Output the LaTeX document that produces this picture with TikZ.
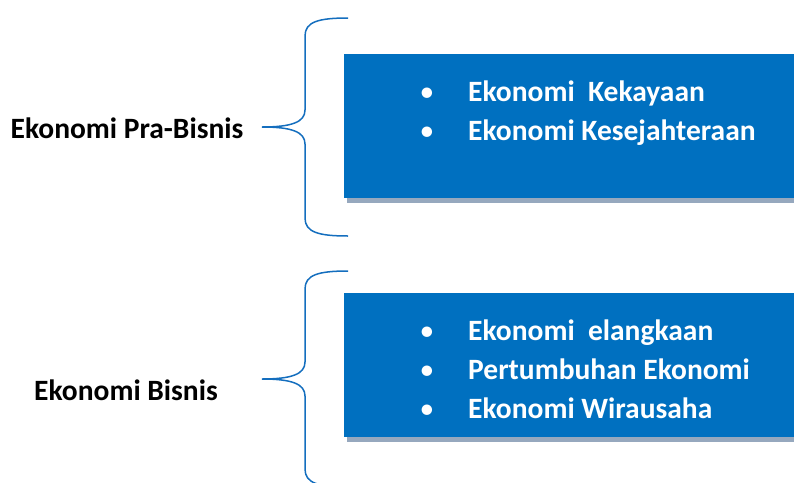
\documentclass[tikz,border=0pt]{standalone}
\usepackage{fontspec}
\setmainfont{Carlito}
\usepackage{tikz}
\usetikzlibrary{shadows}

\definecolor{boxblue}{RGB}{0,112,192}
\definecolor{bracecolor}{RGB}{20,110,190}
\definecolor{shadowgray}{RGB}{150,168,190}

\tikzset{
  bluebox/.style={draw=none, fill=boxblue, anchor=north west, inner sep=0pt,
    minimum width=450pt, minimum height=144pt,
    drop shadow={shadow xshift=3pt, shadow yshift=-5pt, fill=shadowgray, opacity=1}},
  bracket/.style={draw=bracecolor, line width=1.5pt},
  label/.style={font=\fontsize{29.5}{35}\selectfont\bfseries, inner sep=0pt, anchor=base},
  item/.style={font=\fontsize{29.5}{35}\selectfont\bfseries, text=white, anchor=base west, inner sep=0pt},
  dot/.style={font=\fontsize{29.5}{35}\selectfont, text=white, inner sep=0pt, anchor=base}
}

\begin{document}
\begin{tikzpicture}[x=1pt, y=-1pt]
  \useasboundingbox (0,0) rectangle (794,482);

  % upper group
  \node[bluebox] (box1) at (344,54) {};
  \node[label] (prabisnis) at (127,138) {Ekonomi Pra-Bisnis};
  \coordinate (top1) at (348,18);
  \coordinate (mid1) at (262,127);
  \coordinate (bot1) at (348,236);
  \draw[bracket] (top1) .. controls (318,18) and (305,22) .. (305,36)
    -- (305,110) .. controls (305,122) and (292,127) .. (mid1)
    .. controls (292,127) and (305,132) .. (305,144)
    -- (305,218) .. controls (305,232) and (318,236) .. (bot1);
  \foreach \txt [count=\i] in {Ekonomi\ \ Kekayaan, Ekonomi Kesejahteraan} {
    \node[dot] (dot1-\i) at (427,62+39*\i) {\textbullet};
    \node[item] (item1-\i) at (468,62+39*\i) {\txt};
  }

  % lower group
  \node[bluebox] (box2) at (344,293) {};
  \node[label] (bisnis) at (126,400) {Ekonomi Bisnis};
  \coordinate (top2) at (348,271);
  \coordinate (mid2) at (262,379);
  \coordinate (bot2) at (348,487);
  \draw[bracket] (top2) .. controls (318,271) and (305,275) .. (305,289)
    -- (305,362) .. controls (305,374) and (292,379) .. (mid2)
    .. controls (292,379) and (305,384) .. (305,396)
    -- (305,469) .. controls (305,483) and (318,487) .. (bot2);
  \foreach \txt [count=\i] in {Ekonomi\ \ elangkaan, Pertumbuhan Ekonomi, Ekonomi Wirausaha} {
    \node[dot] (dot2-\i) at (427,301+39*\i) {\textbullet};
    \node[item] (item2-\i) at (468,301+39*\i) {\txt};
  }
\end{tikzpicture}
\end{document}
